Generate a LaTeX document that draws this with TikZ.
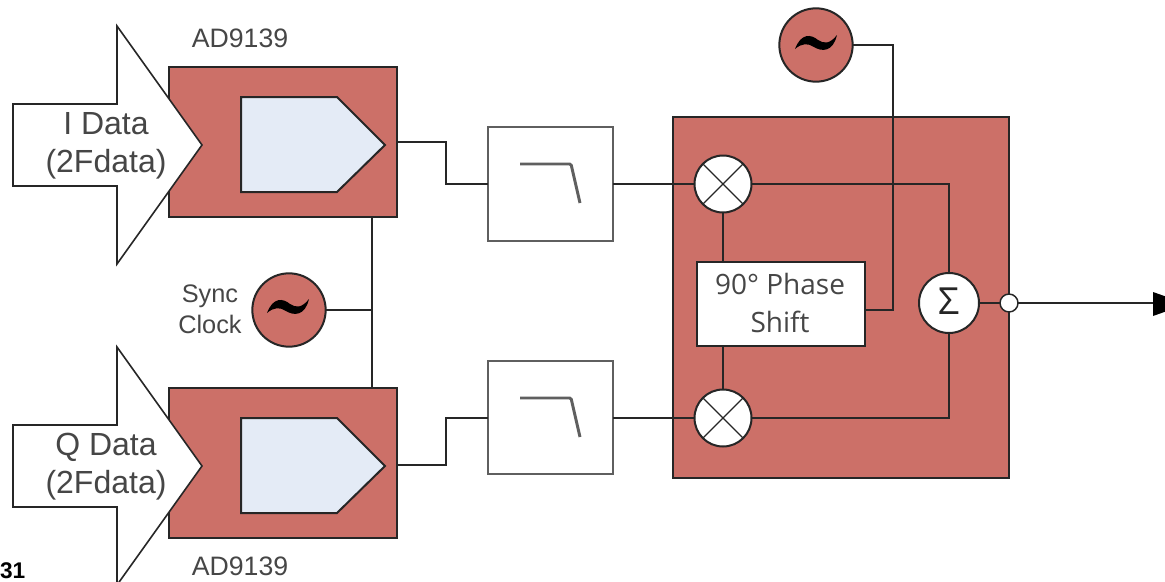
\documentclass[tikz,border=0pt]{standalone}
\usepackage{fontspec}
\setmainfont{Liberation Sans}
\newfontfamily\opensans{Open Sans}
\definecolor{brick}{RGB}{204,112,104}
\definecolor{pale}{RGB}{228,235,246}
\definecolor{ink}{RGB}{38,38,38}
\definecolor{txt}{RGB}{70,70,70}
\definecolor{filt}{RGB}{95,95,95}
\newcommand{\lbl}[1]{\fontsize{#1}{#1}\selectfont}
\newcommand{\tildemark}[1]{\fill[black,shift={(#1)}] (-21,6) .. controls (-15,-10) and (-5,-9) .. (2,-3) .. controls (8,1) and (14,1) .. (21,-8) .. controls (17,9) and (6,9) .. (-2,4) .. controls (-8,0) and (-14,0) .. (-21,6) -- cycle;}
\tikzset{
  every node/.style={outer sep=0pt},
  ln/.style={draw=ink,line width=1.5pt,line join=miter},
  thin ln/.style={draw=ink,line width=1.2pt},
  redbox/.style={ln,fill=brick,minimum width=171pt,minimum height=112.5pt,inner sep=0pt,anchor=north west},
  whitecirc/.style={circle,ln,fill=white,inner sep=0pt},
  osc/.style={circle,ln,fill=brick,inner sep=0pt,minimum size=55pt},
  filterbox/.style={draw=filt,line width=2pt,fill=white,minimum width=93.75pt,inner sep=0pt,anchor=north west},
  filtermark/.style={draw=filt,line width=2.2pt,rounded corners=1pt},
  txtlab/.style={text=txt,align=center,inner sep=0pt},
}
\begin{document}
\begin{tikzpicture}[x=0.75pt,y=-0.75pt]
\useasboundingbox (0,0) rectangle (1165,582);
\begin{scope}
\clip (0,0) rectangle (1165,582);
% ADC boxes
\node[redbox] (boxI) at (169,67) {};
\node[redbox] (boxQ) at (169,388) {};
% input arrows
\draw[thin ln,fill=white] (13,104) -- (117,104) -- (117,26) -- (202,145) -- (117,264) -- (117,186) -- (13,186) -- cycle;
\draw[thin ln,fill=white] (13,425) -- (117,425) -- (117,347) -- (202,466) -- (117,585) -- (117,507) -- (13,507) -- cycle;
% pentagons
\draw[ln,fill=pale] (241,97) -- (337,97) -- (385,145) -- (337,192) -- (241,192) -- cycle;
\draw[ln,fill=pale] (241,418) -- (337,418) -- (385,466) -- (337,513) -- (241,513) -- cycle;
\node[txtlab,font=\lbl{24}] (dataI) at (106,146) {I Data\\[4.5pt](2Fdata)};
\node[txtlab,font=\lbl{24}] (dataQ) at (106,467) {Q Data\\[4.5pt](2Fdata)};
\node[txtlab,font=\lbl{20}] (adI) at (240,38) {AD9139};
\node[txtlab,font=\lbl{20}] (adQ) at (240,566) {AD9139};
\node[txtlab,font=\lbl{19}] (sync) at (210,309) {Sync\\[4pt]Clock};
\node[inner sep=0pt,anchor=south west,font=\bfseries\lbl{17}] (pg) at (0,579) {31};
% oscillators
\node[osc] (oscS) at (289,310) {};
\node[osc] (oscT) at (816,45) {};
\tildemark{288,307}
\tildemark{816,43}
% filters
\node[filterbox,minimum height=85.5pt] (fI) at (488,127) {};
\node[filterbox,minimum height=84.75pt] (fQ) at (488,361) {};
\draw[filtermark] (520,164) -- (571,164) -- (580,203);
\draw[filtermark] (520,398) -- (571,398) -- (580,437);
% main block
\node[ln,fill=brick,minimum width=252pt,minimum height=270.75pt,inner sep=0pt,anchor=north west] (main) at (673,117) {};
\coordinate (junc) at (372,310);
\coordinate (out) at (1153,303);
\coordinate (iout) at (397,142);
\coordinate (qout) at (397,465);
% connectors
\draw[ln] (boxI.south -| junc) -- (boxQ.north -| junc);
\draw[ln] (oscS) -- (junc);
% mixers etc
\node[whitecirc,minimum size=42.75pt] (mI) at (723,184) {};
\node[whitecirc,minimum size=42.75pt] (mQ) at (723,418) {};
\draw[ln] (iout) -- (446,142) -- (446,184) -- (fI.west |- mI);
\draw[ln] (qout) -- (446,465) -- (446,418) -- (fQ.west |- mQ);
\draw[ln] (fI.east |- mI) -- (mI);
\draw[ln] (fQ.east |- mQ) -- (mQ);
\foreach \n in {mI,mQ}
  \draw[thin ln,line width=0.9pt] (\n.45) -- (\n.225) (\n.135) -- (\n.315);
\node[ln,fill=white,minimum width=126pt,minimum height=63pt,inner sep=0pt,anchor=north west] (ph) at (697,262) {};
\node[txtlab,font=\opensans\lbl{21}] (phT) at (780,303) {90° Phase\\[7.5pt]Shift};
\node[whitecirc,minimum size=45pt] (sum) at (949,303) {};
\node[inner sep=0pt,font=\opensans\lbl{28},text=ink] (sumT) at (949,301) {Σ};
\draw[ln] (mI) -- (ph.north -| mI);
\draw[ln] (ph.south -| mQ) -- (mQ);
\draw[ln] (mI) -- (mI -| sum) -- (sum);
\draw[ln] (mQ) -- (mQ -| sum) -- (sum);
\draw[ln] (oscT) -- (893,45) -- (893,310) -- (ph.east |- 893,310);
\node[whitecirc,line width=1.1pt,minimum size=13.5pt] (port) at (1009,303) {};
\draw[ln] (sum) -- (port);
\draw[thin ln] (port) -- (out);
\fill[black] (1153,292) -- (1187,304) -- (1153,316) -- cycle;
\end{scope}
\end{tikzpicture}
\end{document}
